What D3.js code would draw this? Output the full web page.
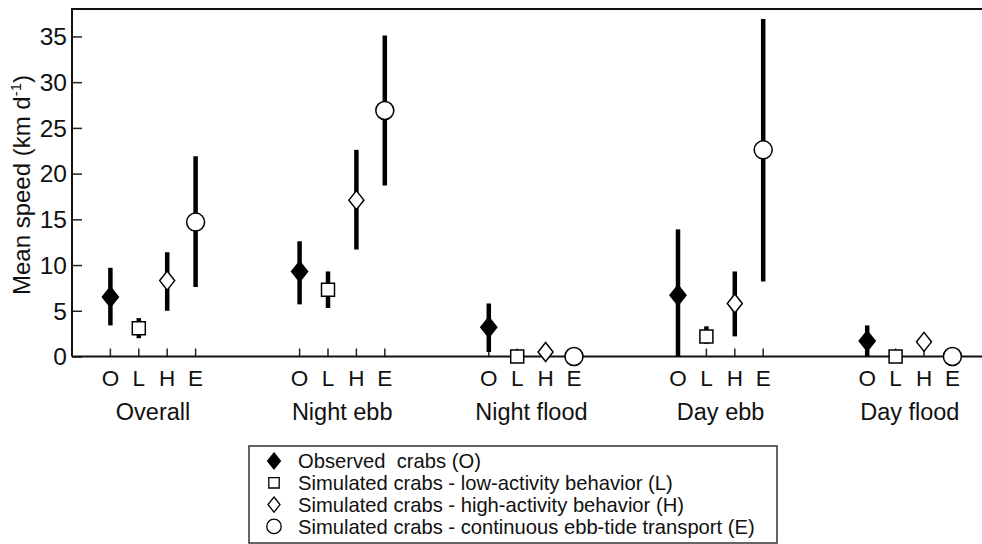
<!DOCTYPE html>
<html>
<head>
<meta charset="utf-8">
<script src="https://cdn.jsdelivr.net/npm/d3@7"></script>
<style>
  body { margin: 0; background: #fff; }
  svg { display: block; font-family: "Liberation Sans", Arial, sans-serif; }
</style>
</head>
<body>
<div id="grafica"></div>
<script>
// categories
var groups = ["Overall", "Night ebb", "Night flood", "Day ebb", "Day flood"];
var series = ["O", "L", "H", "E"];
var legendLabels = [
  "Observed  crabs (O)",
  "Simulated crabs - low-activity behavior (L)",
  "Simulated crabs - high-activity behavior (H)",
  "Simulated crabs - continuous ebb-tide transport (E)"
];
var yTicks = [0, 5, 10, 15, 20, 25, 30, 35];

// means per series, in group order
var meanO = [6.5, 9.3, 3.2, 6.7, 1.7];
var meanL = [3.1, 7.3, 0, 2.2, 0];
var meanH = [8.3, 17.1, 0.5, 5.8, 1.6];
var meanE = [14.7, 26.9, 0, 22.6, 0];
// error bar limits
var lowO = [3.4, 5.7, 0.5, 0, 0];
var lowL = [2.0, 5.3, 0, 1.4, 0];
var lowH = [5.0, 11.7, 0.5, 2.2, 1.6];
var lowE = [7.6, 18.7, 0, 8.2, 0];
var highO = [9.7, 12.6, 5.8, 13.9, 3.4];
var highL = [4.2, 9.3, 0, 3.3, 0];
var highH = [11.4, 22.6, 0.5, 9.3, 1.6];
var highE = [21.9, 35.1, 0, 36.9, 0];

var means = {O: meanO, L: meanL, H: meanH, E: meanE};
var lows = {O: lowO, L: lowL, H: lowH, E: lowE};
var highs = {O: highO, L: highL, H: highH, E: highE};

var rows = [];
groups.forEach(function(g, i) {
  series.forEach(function(s) {
    rows.push({group: g, s: s, mean: means[s][i], low: lows[s][i], high: highs[s][i]});
  });
});

var width = 982, height = 544;
var svg = d3.select("#grafica").append("svg")
  .attr("width", width)
  .attr("height", height);

var pLeft = 72, pTop = 9, pBottom = 356.5, pRight = 982;

var y = d3.scaleLinear().domain([0, 38]).range([pBottom, pTop]);
var x0 = d3.scalePoint().domain(groups).range([153, 909.8]);
var x1 = d3.scalePoint().domain(series).range([-42.6, 42.6]);
function xpos(d) { return x0(d.group) + x1(d.s); }

// frame: top line
svg.append("line")
  .attr("x1", pLeft).attr("x2", pRight).attr("y1", pTop).attr("y2", pTop)
  .attr("stroke", "#111").attr("stroke-width", 2);

// y axis
var yAxis = svg.append("g")
  .attr("transform", "translate(" + pLeft + ",0)")
  .call(d3.axisRight(y).tickValues(yTicks).tickSize(10).tickFormat(""));
yAxis.select(".domain").remove();
yAxis.selectAll(".tick line").attr("stroke", "#222").attr("stroke-width", 1.5);
svg.append("line")
  .attr("x1", pLeft).attr("x2", pLeft).attr("y1", pTop - 1).attr("y2", pBottom)
  .attr("stroke", "#111").attr("stroke-width", 2);

svg.selectAll("text.ytick")
  .data(yTicks)
  .enter()
  .append("text")
    .attr("class", "ytick")
    .attr("x", 67)
    .attr("y", function(d) { return y(d); })
    .attr("dy", "0.36em")
    .attr("text-anchor", "end")
    .style("font-size", "24.5px")
    .attr("fill", "#111")
    .text(function(d) { return d; });

// y label
svg.append("text")
  .attr("transform", "translate(30,185)rotate(-90)")
  .attr("text-anchor", "middle")
  .style("font-size", "24px")
  .attr("fill", "#111")
  .html('Mean speed (km d<tspan dy="-9" font-size="15px">-1</tspan><tspan dy="9">)</tspan>');

// x axis ticks (inward)
svg.selectAll("line.xtick")
  .data(rows)
  .enter()
  .append("line")
    .attr("class", "xtick")
    .attr("x1", xpos).attr("x2", xpos)
    .attr("y1", pBottom).attr("y2", pBottom - 8)
    .attr("stroke", "#222").attr("stroke-width", 1.5);
svg.append("line")
  .attr("x1", pLeft).attr("x2", pRight).attr("y1", pBottom).attr("y2", pBottom)
  .attr("stroke", "#111").attr("stroke-width", 2);

// series letters
svg.selectAll("text.slab")
  .data(rows)
  .enter()
  .append("text")
    .attr("class", "slab")
    .attr("x", xpos)
    .attr("y", 386)
    .attr("text-anchor", "middle")
    .style("font-size", "22.5px")
    .attr("fill", "#111")
    .text(function(d) { return d.s; });

// group labels
svg.selectAll("text.glab")
  .data(groups)
  .enter()
  .append("text")
    .attr("class", "glab")
    .attr("x", function(d) { return x0(d); })
    .attr("y", 420)
    .attr("text-anchor", "middle")
    .style("font-size", "23.5px")
    .attr("fill", "#111")
    .text(function(d) { return d; });

// error bars
svg.selectAll("line.err")
  .data(rows.filter(function(d) { return d.high > d.low; }))
  .enter()
  .append("line")
    .attr("class", "err")
    .attr("x1", xpos).attr("x2", xpos)
    .attr("y1", function(d) { return y(d.low); })
    .attr("y2", function(d) { return y(d.high); })
    .attr("stroke", "#000").attr("stroke-width", 4.5);

// markers
function markerPath(s, big) {
  var k = big ? 1 : 0.8;
  if (s === "O") return "M0," + (-10 * k) + "L" + (8 * k) + ",0L0," + (10 * k) + "L" + (-8 * k) + ",0Z";
  if (s === "H") return "M0," + (-9.5 * k) + "L" + (7.5 * k) + ",0L0," + (9.5 * k) + "L" + (-7.5 * k) + ",0Z";
  if (s === "L") return "M" + (-6.5 * k) + "," + (-6.5 * k) + "H" + (6.5 * k) + "V" + (6.5 * k) + "H" + (-6.5 * k) + "Z";
  var r = 9 * k;
  return "M" + r + ",0A" + r + "," + r + " 0 1,1 " + (-r) + ",0A" + r + "," + r + " 0 1,1 " + r + ",0Z";
}

svg.selectAll("path.mark")
  .data(rows)
  .enter()
  .append("path")
    .attr("class", "mark")
    .attr("transform", function(d) { return "translate(" + xpos(d) + "," + y(d.mean) + ")"; })
    .attr("d", function(d) { return markerPath(d.s, true); })
    .attr("fill", function(d) { return d.s === "O" ? "#000" : "#fff"; })
    .attr("stroke", "#000")
    .attr("stroke-width", 1.5);

// legend
var legend = svg.append("g");
legend.append("rect")
  .attr("x", 249).attr("y", 446)
  .attr("width", 528).attr("height", 97)
  .attr("fill", "#fff").attr("stroke", "#333").attr("stroke-width", 1.5);

var items = legend.selectAll("g.item")
  .data(series)
  .enter()
  .append("g")
    .attr("class", "item")
    .attr("transform", function(d, i) { return "translate(0," + (461 + i * 21.8) + ")"; });

items.append("path")
  .attr("transform", "translate(274,0)")
  .attr("d", function(d) { return markerPath(d, false); })
  .attr("fill", function(d) { return d === "O" ? "#000" : "#fff"; })
  .attr("stroke", "#000")
  .attr("stroke-width", 1.3);

items.append("text")
  .attr("x", 298)
  .attr("dy", "0.36em")
  .style("font-size", "20.2px")
  .style("white-space", "pre")
  .attr("fill", "#111")
  .text(function(d, i) { return legendLabels[i]; });
</script>
</body>
</html>
